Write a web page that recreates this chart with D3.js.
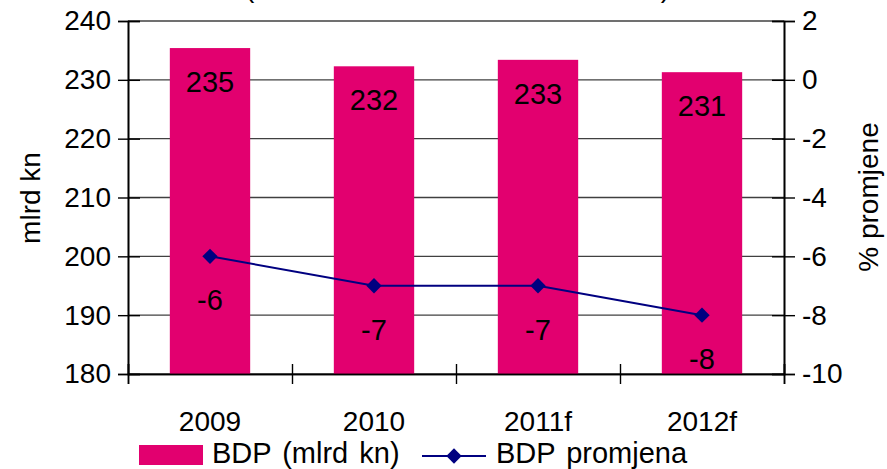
<!DOCTYPE html>
<html>
<head>
<meta charset="utf-8">
<script src="https://cdn.jsdelivr.net/npm/d3@7/dist/d3.min.js"></script>
<style>
    body { margin: 0; background: #fff; }
    text { font-family: "Liberation Sans", Arial, sans-serif; fill: #000; }
</style>
</head>
<body>
<div id="chart"></div>
<script>
// data
var categories = ["2009", "2010", "2011f", "2012f"];
var bdpValues = [235.4, 232.3, 233.4, 231.3];      // mlrd kn (bars)
var bdpLabels = ["235", "232", "233", "231"];
var changeValues = [-6.0, -7.0, -7.0, -8.0];        // % promjene (line)
var changeLabels = ["-6", "-7", "-7", "-8"];
var leftTicks = [180, 190, 200, 210, 220, 230, 240];
var rightTicks = [-10, -8, -6, -4, -2, 0, 2];
var seriesNames = ["BDP (mlrd kn)", "BDP promjena"];

var W = 887, H = 469;
var plot = {left: 128, right: 784, top: 21, bottom: 374};
var barColor = "#e2006f", lineColor = "#000080";

var svg = d3.select("#chart")
    .append("svg")
    .attr("width", W)
    .attr("height", H);

var x = d3.scaleBand()
    .domain(categories)
    .range([plot.left, plot.right])
    .paddingInner(0.51)
    .paddingOuter(0.255);

var yLeft = d3.scaleLinear()
    .domain([180, 240])
    .range([plot.bottom, plot.top]);

var yRight = d3.scaleLinear()
    .domain([-10, 2])
    .range([plot.bottom, plot.top]);

// plain hyphen for negatives, like the original
var plain = function (d) { return String(d); };

// cut-off title, only the bottom of the brackets shows
svg.append("text")
    .attr("x", 245)
    .attr("y", -3)
    .attr("textLength", 425)
    .style("font-size", "28px")
    .text("(u mlrd kn i realni rast u %)");

// gridlines
svg.append("g")
    .selectAll("line")
    .data(leftTicks)
    .enter().append("line")
    .attr("x1", plot.left)
    .attr("x2", plot.right)
    .attr("y1", function (d) { return yLeft(d); })
    .attr("y2", function (d) { return yLeft(d); })
    .attr("stroke", "#404040")
    .attr("stroke-width", 1.4);

// bars
svg.append("g")
    .selectAll("rect")
    .data(categories)
    .enter().append("rect")
    .attr("x", function (d) { return x(d); })
    .attr("width", x.bandwidth())
    .attr("y", function (d, i) { return yLeft(bdpValues[i]); })
    .attr("height", function (d, i) { return plot.bottom - yLeft(bdpValues[i]); })
    .attr("fill", barColor);

// left axis, ticks cross the line
svg.append("g")
    .attr("transform", "translate(" + plot.left + ",0)")
    .call(d3.axisLeft(yLeft).tickValues(leftTicks).tickFormat(plain).tickSize(10).tickPadding(7));
svg.append("g")
    .attr("transform", "translate(" + plot.left + ",0)")
    .call(d3.axisLeft(yLeft).tickValues(leftTicks).tickSize(-12).tickFormat(""));

// right axis
svg.append("g")
    .attr("transform", "translate(" + plot.right + ",0)")
    .call(d3.axisRight(yRight).tickValues(rightTicks).tickFormat(plain).tickSize(11).tickPadding(7));
svg.append("g")
    .attr("transform", "translate(" + plot.right + ",0)")
    .call(d3.axisRight(yRight).tickValues(rightTicks).tickSize(-12).tickFormat(""));

// bottom axis with ticks at category boundaries
var half = (x.step() - x.bandwidth()) / 2;
var bounds = categories.map(function (d) { return x(d) - half; }).concat([plot.right]);
var xBound = d3.scaleLinear().domain([plot.left, plot.right]).range([plot.left, plot.right]);
svg.append("g")
    .attr("transform", "translate(0," + plot.bottom + ")")
    .call(d3.axisBottom(xBound).tickValues(bounds).tickSize(10).tickFormat(""));
svg.append("g")
    .attr("transform", "translate(0," + plot.bottom + ")")
    .call(d3.axisBottom(xBound).tickValues(bounds).tickSize(-10).tickFormat(""));

svg.selectAll(".domain").attr("stroke", "#000").attr("stroke-width", 1.6);
svg.selectAll(".tick line").attr("stroke", "#000").attr("stroke-width", 1.4);
svg.selectAll(".tick text").style("font-size", "28px").attr("fill", "#000");

// category labels
svg.append("g")
    .selectAll("text")
    .data(categories)
    .enter().append("text")
    .attr("x", function (d) { return x(d) + x.bandwidth() / 2; })
    .attr("y", 431)
    .attr("text-anchor", "middle")
    .style("font-size", "28px")
    .text(function (d) { return d; });

// axis titles
svg.append("text")
    .attr("transform", "translate(40,198) rotate(-90)")
    .attr("text-anchor", "middle")
    .style("font-size", "28px")
    .text("mlrd kn");
svg.append("text")
    .attr("transform", "translate(878,197) rotate(-90)")
    .attr("text-anchor", "middle")
    .style("font-size", "28px")
    .text("% promjene");

// bar value labels
svg.append("g")
    .selectAll("text")
    .data(categories)
    .enter().append("text")
    .attr("x", function (d) { return x(d) + x.bandwidth() / 2; })
    .attr("y", function (d, i) { return yLeft(bdpValues[i]) + 44; })
    .attr("text-anchor", "middle")
    .style("font-size", "29px")
    .text(function (d, i) { return bdpLabels[i]; });

// change line
var line = d3.line()
    .x(function (d, i) { return x(categories[i]) + x.bandwidth() / 2; })
    .y(function (d) { return yRight(d); });
svg.append("path")
    .datum(changeValues)
    .attr("d", line)
    .attr("fill", "none")
    .attr("stroke", lineColor)
    .attr("stroke-width", 2);

var diamond = d3.symbol().type(d3.symbolDiamond2).size(150);
svg.append("g")
    .selectAll("path")
    .data(changeValues)
    .enter().append("path")
    .attr("d", diamond)
    .attr("transform", function (d, i) {
        return "translate(" + (x(categories[i]) + x.bandwidth() / 2) + "," + yRight(d) + ")";
    })
    .attr("fill", lineColor);

svg.append("g")
    .selectAll("text")
    .data(changeValues)
    .enter().append("text")
    .attr("x", function (d, i) { return x(categories[i]) + x.bandwidth() / 2; })
    .attr("y", function (d) { return yRight(d) + 54; })
    .attr("text-anchor", "middle")
    .style("font-size", "29px")
    .text(function (d, i) { return changeLabels[i]; });

// legend
var legend = svg.append("g");
legend.append("rect")
    .attr("x", 139).attr("y", 445)
    .attr("width", 64).attr("height", 20)
    .attr("fill", barColor);
legend.append("text")
    .attr("x", 212).attr("y", 463)
    .style("font-size", "29px")
    .style("word-spacing", "3px")
    .text(seriesNames[0]);
legend.append("line")
    .attr("x1", 422).attr("x2", 486)
    .attr("y1", 456).attr("y2", 456)
    .attr("stroke", lineColor)
    .attr("stroke-width", 2);
legend.append("path")
    .attr("d", diamond)
    .attr("transform", "translate(454,456)")
    .attr("fill", lineColor);
legend.append("text")
    .attr("x", 496).attr("y", 463)
    .style("font-size", "29px")
    .style("word-spacing", "3px")
    .text(seriesNames[1]);
</script>
</body>
</html>
